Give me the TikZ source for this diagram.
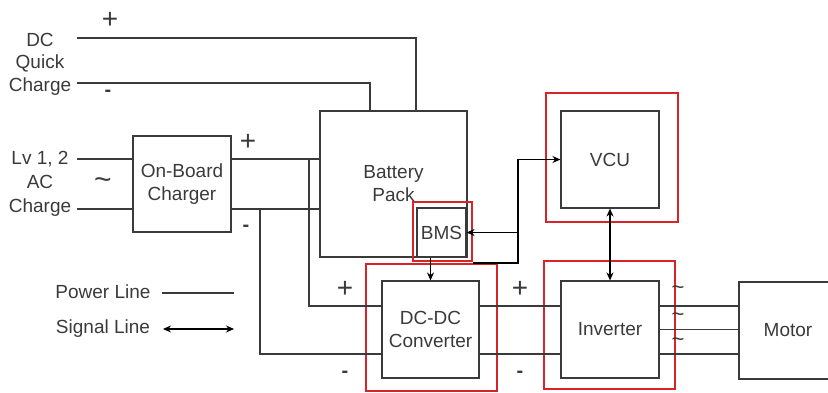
\documentclass[tikz,border=0pt]{standalone}
\usepackage{fontspec}
\setmainfont{Liberation Sans}
\usetikzlibrary{arrows.meta,positioning}
\definecolor{ink}{HTML}{3A3A3A}
\definecolor{hilite}{HTML}{D8232A}

\begin{document}
\begin{tikzpicture}[
  x=1pt, y=-1pt,
  >={Stealth[length=8pt,width=7pt]},
  font=\fontsize{19}{23}\selectfont,
  every node/.style={text=ink},
  block/.style={draw=ink, line width=1.1pt, inner sep=0pt, align=center},
  focus/.style={draw=hilite, line width=1.8pt, inner sep=0pt},
  power/.style={draw=ink, line width=1.1pt},
  signal/.style={draw=black, line width=1.1pt},
  pole/.style={inner sep=0pt, font=\fontsize{28}{28}\selectfont},
  neg/.style={inner sep=0pt, font=\fontsize{20}{20}\selectfont\bfseries},
  wave/.style={inner sep=0pt, font=\fontsize{30}{30}\selectfont}
]
  \clip (0,0) rectangle (828,392);

  % blocks
  \node[block, minimum width=98pt, minimum height=96pt] (obc) at (182,184) {On-Board\\Charger};
  \node[block, minimum width=147pt, minimum height=146pt] (battery) at (393.5,184) {Battery\\Pack};
  \node[block, minimum width=49pt, minimum height=49pt] (bms) at (441.5,232.5) {BMS};
  \node[block, minimum width=97pt, minimum height=97pt] (dcdc) at (430.5,329.5) {DC-DC\\Converter};
  \node[block, minimum width=98pt, minimum height=97pt] (vcu) at (610,159.5) {VCU};
  \node[block, minimum width=98pt, minimum height=97pt] (inv) at (610,329.5) {Inverter};
  \node[block, minimum width=98pt, minimum height=97pt] (motor) at (788,330.5) {Motor};

  % red frames
  \node[focus, minimum width=59pt, minimum height=59pt] (bmsframe) at (442.5,231.5) {};
  \node[focus, minimum width=131pt, minimum height=127pt] (dcdcframe) at (431.5,327.5) {};
  \node[focus, minimum width=132pt, minimum height=129pt] (vcuframe) at (612,157.5) {};
  \node[focus, minimum width=131pt, minimum height=128pt] (invframe) at (609.5,325) {};

  % inputs
  \node[align=center, font=\fontsize{19}{22.5}\selectfont] (dcquick) at (40,64) {DC\\Quick\\Charge};
  \node[align=center, font=\fontsize{19}{24}\selectfont] (acslow) at (40,184) {Lv 1, 2\\AC\\Charge};

  \coordinate (dcplus) at (77,38);
  \coordinate (dcminus) at (77,83);
  \coordinate (acplus) at (77,159);
  \coordinate (acminus) at (77,209);
  \coordinate (packplus) at (416,111);
  \coordinate (packminus) at (370,111);
  \coordinate (tapplus) at (309,159);
  \coordinate (tapminus) at (260,209);
  \coordinate (hvplus) at (0,306);
  \coordinate (hvminus) at (0,354);
  \coordinate (canbus) at (518,263);

  \path[power]
    (dcplus) -| (packplus)
    (dcminus) -| (packminus)
    (acplus) -- (acplus -| obc.west)
    (acminus) -- (acminus -| obc.west)
    (acplus -| obc.east) -- (acplus -| battery.west)
    (acminus -| obc.east) -- (acminus -| battery.west)
    (tapplus) |- (hvplus -| dcdc.west)
    (tapminus) |- (hvminus -| dcdc.west)
    (hvplus -| dcdc.east) -- (hvplus -| inv.west)
    (hvminus -| dcdc.east) -- (hvminus -| inv.west)
    (hvplus -| inv.east) -- (hvplus -| motor.west)
    (inv.east) -- (inv.east -| motor.west)
    (hvminus -| inv.east) -- (hvminus -| motor.west);

  \draw[signal,->] (canbus -| bmsframe.east) -- (canbus) |- (vcu.west);
  \draw[signal,->] (canbus |- bms.east) -- (bms.east);
  \draw[signal,->] (dcdc.north |- bms.south) -- (dcdc.north);
  \draw[signal,<->] (vcu.south) -- (inv.north);

  % polarity marks
  \node[pole] (dcp) at (110,20) {+};
  \node[neg] (dcm) at (108,93) {-};
  \node[wave] (acw) at (103,184) {\textasciitilde};
  \node[pole] (obcp) at (248,142) {+};
  \node[neg] (obcm) at (246,228) {-};
  \node[pole] (dcinp) at (345,289) {+};
  \node[neg] (dcinm) at (345,374) {-};
  \node[pole] (invinp) at (520,289) {+};
  \node[neg] (invinm) at (520,374) {-};
  \node[wave, font=\fontsize{22}{22}\selectfont] (wavea) at (678,290) {\textasciitilde};
  \node[wave, font=\fontsize{22}{22}\selectfont] (waveb) at (678,317) {\textasciitilde};
  \node[wave, font=\fontsize{22}{22}\selectfont] (wavec) at (678,342) {\textasciitilde};

  % legend
  \node (powerkey) at (103,292) {Power Line};
  \node (signalkey) at (103,329) {Signal Line};
  \coordinate (powerend) at (234,293);
  \coordinate (signalend) at (234,329);
  \draw[power] (powerend -| 162,0) -- (powerend);
  \draw[signal,<->] (signalend -| 163,0) -- (signalend);
\end{tikzpicture}
\end{document}
